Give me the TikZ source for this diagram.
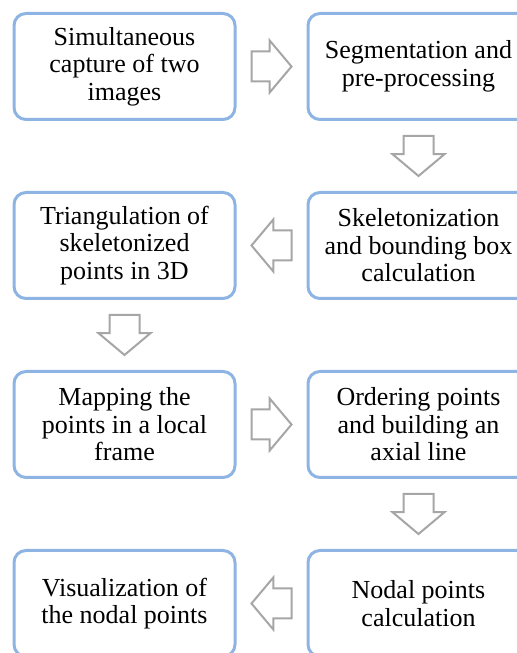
\documentclass[tikz,border=0pt]{standalone}
\usepackage{fontspec}
\setmainfont{Liberation Serif}
\usetikzlibrary{positioning,shapes.arrows,calc}
\definecolor{boxblue}{RGB}{141,180,226}
\definecolor{arrgray}{RGB}{166,166,166}

\begin{document}
\begin{tikzpicture}[
    box/.style={rectangle,draw=boxblue,line width=1.5pt,fill=white,rounded corners=6pt,minimum width=110.5pt,minimum height=53pt,inner sep=2pt,font=\fontsize{13}{13.8}\selectfont,align=center},
    blockarrow/.style={single arrow,draw=arrgray,line width=1pt,fill=white,minimum height=20pt,inner xsep=0pt,inner ysep=7pt,single arrow head extend=5.5pt,single arrow tip angle=100,anchor=tail},
    node distance=35pt
  ]
  \useasboundingbox (0,0) rectangle (258.5pt,326.5pt);
  \node[box] (capture) at (62.25pt,293.25pt) {Simultaneous\\capture of two\\images};
  \node[box,right=of capture] (seg) {Segmentation and\\pre-processing};
  \node[box,below=of seg] (skel) {Skeletonization\\and bounding box\\calculation};
  \node[box,left=of skel] (tri) {Triangulation of\\skeletonized\\points in 3D};
  \node[box,below=of tri] (map) {Mapping the\\points in a local\\frame};
  \node[box,right=of map] (order) {Ordering points\\and building an\\axial line};
  \node[box,below=of order] (nodal) {Nodal points\\calculation};
  \node[box,left=of nodal] (vis) {Visualization of\\the nodal points};
  \node[blockarrow] (a1) at ($(capture.east)!0.5!(seg.west)!10.5pt!(capture.east)$) {};
  \node[blockarrow,rotate=-90] (a2) at ($(seg.south)!0.5!(skel.north)!10.5pt!(seg.south)$) {};
  \node[blockarrow,rotate=180] (a3) at ($(skel.west)!0.5!(tri.east)!10.5pt!(skel.west)$) {};
  \node[blockarrow,rotate=-90] (a4) at ($(tri.south)!0.5!(map.north)!10.5pt!(tri.south)$) {};
  \node[blockarrow] (a5) at ($(map.east)!0.5!(order.west)!10.5pt!(map.east)$) {};
  \node[blockarrow,rotate=-90] (a6) at ($(order.south)!0.5!(nodal.north)!10.5pt!(order.south)$) {};
  \node[blockarrow,rotate=180] (a7) at ($(nodal.west)!0.5!(vis.east)!10.5pt!(nodal.west)$) {};
\end{tikzpicture}
\end{document}
